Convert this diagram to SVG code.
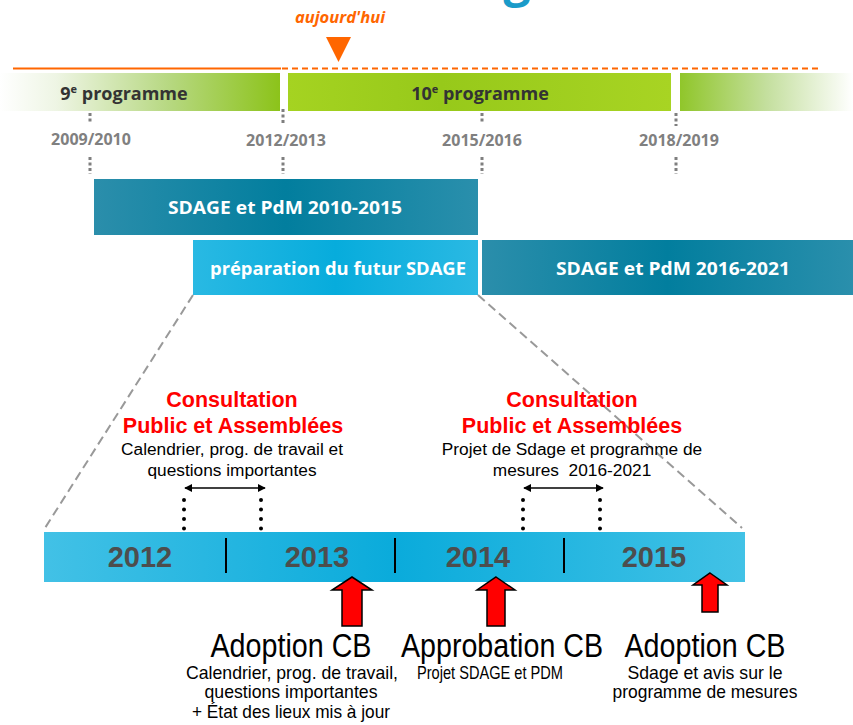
<svg xmlns="http://www.w3.org/2000/svg" width="853" height="725" viewBox="0 0 853 725">
<defs>
<linearGradient id="g9" x1="0" x2="1" y1="0" y2="0"><stop offset="0" stop-color="#ffffff"/><stop offset="0.2" stop-color="#eef5e4"/><stop offset="0.6" stop-color="#b7d882"/><stop offset="1" stop-color="#8cc31a"/></linearGradient>
<linearGradient id="g10" x1="0" x2="1" y1="0" y2="0"><stop offset="0" stop-color="#a5d321"/><stop offset="0.4" stop-color="#97c91a"/><stop offset="1" stop-color="#a8d423"/></linearGradient>
<linearGradient id="g11" x1="0" x2="1" y1="0" y2="0"><stop offset="0" stop-color="#90c62a"/><stop offset="0.5" stop-color="#c4df9e"/><stop offset="1" stop-color="#ffffff"/></linearGradient>
<linearGradient id="teal" x1="0" x2="1" y1="0" y2="0"><stop offset="0" stop-color="#2b8eab"/><stop offset="0.5" stop-color="#027e9e"/><stop offset="1" stop-color="#2a8fac"/></linearGradient>
<linearGradient id="lblue" x1="0" x2="1" y1="0" y2="0"><stop offset="0" stop-color="#29b9e3"/><stop offset="0.5" stop-color="#07acdc"/><stop offset="1" stop-color="#2ab9e3"/></linearGradient>
<linearGradient id="tl" x1="0" x2="1" y1="0" y2="0"><stop offset="0" stop-color="#42c1e6"/><stop offset="0.5" stop-color="#0aabdb"/><stop offset="1" stop-color="#42c2e6"/></linearGradient>
<marker id="ah" viewBox="0 0 10 10" refX="9" refY="5" markerWidth="8" markerHeight="8" orient="auto-start-reverse" markerUnits="userSpaceOnUse"><path d="M0,0 L10,5 L0,10 Z" fill="#000"/></marker>
</defs>
<style>
.prog{font-family:"Open Sans","Liberation Sans",sans-serif;font-weight:bold;font-size:18px;fill:#333333;text-anchor:middle}
.date{font-family:"Open Sans","Liberation Sans",sans-serif;font-weight:bold;font-size:16px;fill:#808080;text-anchor:middle}
.vdot{stroke:#7f7f7f;stroke-width:3;stroke-dasharray:3 2.5}
.bar{font-family:"Open Sans","Liberation Sans",sans-serif;font-weight:bold;font-size:18px;fill:#ffffff;text-anchor:middle}
.cons{font-family:"Liberation Sans",Arial,sans-serif;font-weight:bold;font-size:21.5px;fill:#ff0000;text-anchor:middle}
.sub{font-family:"Liberation Sans",Arial,sans-serif;font-size:17.3px;fill:#000;text-anchor:middle}
.year{font-family:"Liberation Sans",Arial,sans-serif;font-weight:bold;font-size:29px;fill:#4d4d4d;text-anchor:middle}
.big{font-family:"Liberation Sans",Arial,sans-serif;font-size:33px;fill:#000;text-anchor:middle}
.small{font-family:"Liberation Sans",Arial,sans-serif;font-size:19px;fill:#000;text-anchor:middle}
.arrow{fill:#ff0000;stroke:#000;stroke-width:1.5;stroke-linejoin:miter}
.bdot{stroke:#000;stroke-width:4;stroke-linecap:round;stroke-dasharray:0 9.5}
.diag{stroke:#999999;stroke-width:2;stroke-dasharray:9 5;fill:none}
</style>
<text x="517" y="-4" font-family="Open Sans, Liberation Sans, sans-serif" font-weight="bold" font-size="48" fill="#1a9bc9" text-anchor="middle">g</text>
<g id="today">
<text x="340" y="23" font-family="Open Sans, Liberation Sans, sans-serif" font-weight="bold" font-style="italic" font-size="16.5" fill="#ff6600" text-anchor="middle">aujourd'hui</text>
<path d="M326,37 L351,37 L338.5,62 Z" fill="#ff6600"/>
<line x1="13" y1="68.5" x2="281" y2="68.5" stroke="#ff6600" stroke-width="2"/>
<line x1="282" y1="68.5" x2="822" y2="68.5" stroke="#ff6600" stroke-width="2" stroke-dasharray="6 4"/>
</g>
<g id="prog9"><rect x="0" y="73" width="280" height="38" fill="url(#g9)"/><text class="prog" x="124" y="100">9<tspan font-size="11" dy="-7">e</tspan><tspan dy="7"> programme</tspan></text></g>
<g id="prog10"><rect x="288" y="73" width="383" height="38" fill="url(#g10)"/><text class="prog" x="480" y="100">10<tspan font-size="11" dy="-7">e</tspan><tspan dy="7"> programme</tspan></text></g>
<g id="prog11"><rect x="680" y="73" width="173" height="38" fill="url(#g11)"/></g>
<g id="dates">
<line class="vdot" x1="90" y1="113" x2="90" y2="124"/><line class="vdot" x1="90" y1="157" x2="90" y2="174"/>
<line class="vdot" x1="283" y1="109" x2="283" y2="124"/><line class="vdot" x1="283" y1="157" x2="283" y2="174"/>
<line class="vdot" x1="482" y1="113" x2="482" y2="124"/><line class="vdot" x1="482" y1="157" x2="482" y2="174"/>
<line class="vdot" x1="676" y1="113" x2="676" y2="126"/><line class="vdot" x1="676" y1="157" x2="676" y2="174"/>
<text class="date" x="91" y="145">2009/2010</text>
<text class="date" x="286" y="146">2012/2013</text>
<text class="date" x="482" y="146">2015/2016</text>
<text class="date" x="679" y="146">2018/2019</text>
</g>
<g id="sdage1"><rect x="94" y="179" width="384" height="56" fill="url(#teal)"/><text class="bar" x="285" y="214" textLength="234" lengthAdjust="spacingAndGlyphs">SDAGE et PdM 2010-2015</text></g>
<g id="prep"><rect x="193" y="240" width="285" height="55" fill="url(#lblue)"/><text class="bar" x="338" y="275" textLength="256" lengthAdjust="spacingAndGlyphs">préparation du futur SDAGE</text></g>
<g id="sdage2"><rect x="482" y="240" width="371" height="55" fill="url(#teal)"/><text class="bar" x="673" y="275" textLength="234" lengthAdjust="spacingAndGlyphs">SDAGE et PdM 2016-2021</text></g>
<g id="connectors">
<line class="diag" x1="193" y1="295" x2="45" y2="528"/>
<line class="diag" x1="478" y1="295" x2="742" y2="528"/>
<line x1="185" y1="488" x2="265" y2="488" stroke="#000" stroke-width="1.5" marker-start="url(#ah)" marker-end="url(#ah)"/>
<line x1="524" y1="488" x2="603" y2="488" stroke="#000" stroke-width="1.5" marker-start="url(#ah)" marker-end="url(#ah)"/>
<line class="bdot" x1="184" y1="500" x2="184" y2="530"/>
<line class="bdot" x1="261" y1="500" x2="261" y2="530"/>
<line class="bdot" x1="523" y1="500" x2="523" y2="530"/>
<line class="bdot" x1="600" y1="500" x2="600" y2="530"/>
</g>
<g id="consult1">
<text class="cons" x="232" y="407">Consultation</text>
<text class="cons" x="233" y="433">Public et Assemblées</text>
<text class="sub" x="232" y="455">Calendrier, prog. de travail et</text>
<text class="sub" x="232" y="476">questions importantes</text>
</g>
<g id="consult2">
<text class="cons" x="572" y="407">Consultation</text>
<text class="cons" x="572" y="433">Public et Assemblées</text>
<text class="sub" x="572" y="455">Projet de Sdage et programme de</text>
<text class="sub" x="572" y="476" xml:space="preserve">mesures  2016-2021</text>
</g>
<g id="timeline">
<rect x="44" y="532" width="701" height="50" fill="url(#tl)"/>
<line x1="226" y1="538" x2="226" y2="573" stroke="#000" stroke-width="2"/>
<line x1="395" y1="538" x2="395" y2="573" stroke="#000" stroke-width="2"/>
<line x1="564" y1="538" x2="564" y2="573" stroke="#000" stroke-width="2"/>
<text class="year" x="140" y="567">2012</text>
<text class="year" x="317" y="567">2013</text>
<text class="year" x="478" y="567">2014</text>
<text class="year" x="654" y="567">2015</text>
</g>
<g id="adoption1">
<path class="arrow" d="M352,577 L372,590 L362,590 L362,626 L342,626 L342,590 L332,590 Z"/>
<text class="big" x="291" y="657" textLength="161" lengthAdjust="spacingAndGlyphs">Adoption CB</text>
<text class="small" x="292" y="679" textLength="212" lengthAdjust="spacingAndGlyphs">Calendrier, prog. de travail,</text>
<text class="small" x="291" y="698" textLength="173" lengthAdjust="spacingAndGlyphs">questions importantes</text>
<text class="small" x="291" y="718" textLength="198" lengthAdjust="spacingAndGlyphs">+ État des lieux mis à jour</text>
</g>
<g id="approbation">
<path class="arrow" d="M496,577 L515,590 L505,590 L505,626 L487,626 L487,590 L477,590 Z"/>
<text class="big" x="502" y="657" textLength="202" lengthAdjust="spacingAndGlyphs">Approbation CB</text>
<text class="small" x="490" y="679" textLength="146" lengthAdjust="spacingAndGlyphs">Projet SDAGE et PDM</text>
</g>
<g id="adoption2">
<path class="arrow" d="M710,573 L727,585 L718,585 L718,612 L702,612 L702,585 L693,585 Z"/>
<text class="big" x="705" y="657" textLength="161" lengthAdjust="spacingAndGlyphs">Adoption CB</text>
<text class="small" x="705" y="679" textLength="155" lengthAdjust="spacingAndGlyphs">Sdage et avis sur le</text>
<text class="small" x="705" y="698" textLength="185" lengthAdjust="spacingAndGlyphs">programme de mesures</text>
</g>
</svg>
